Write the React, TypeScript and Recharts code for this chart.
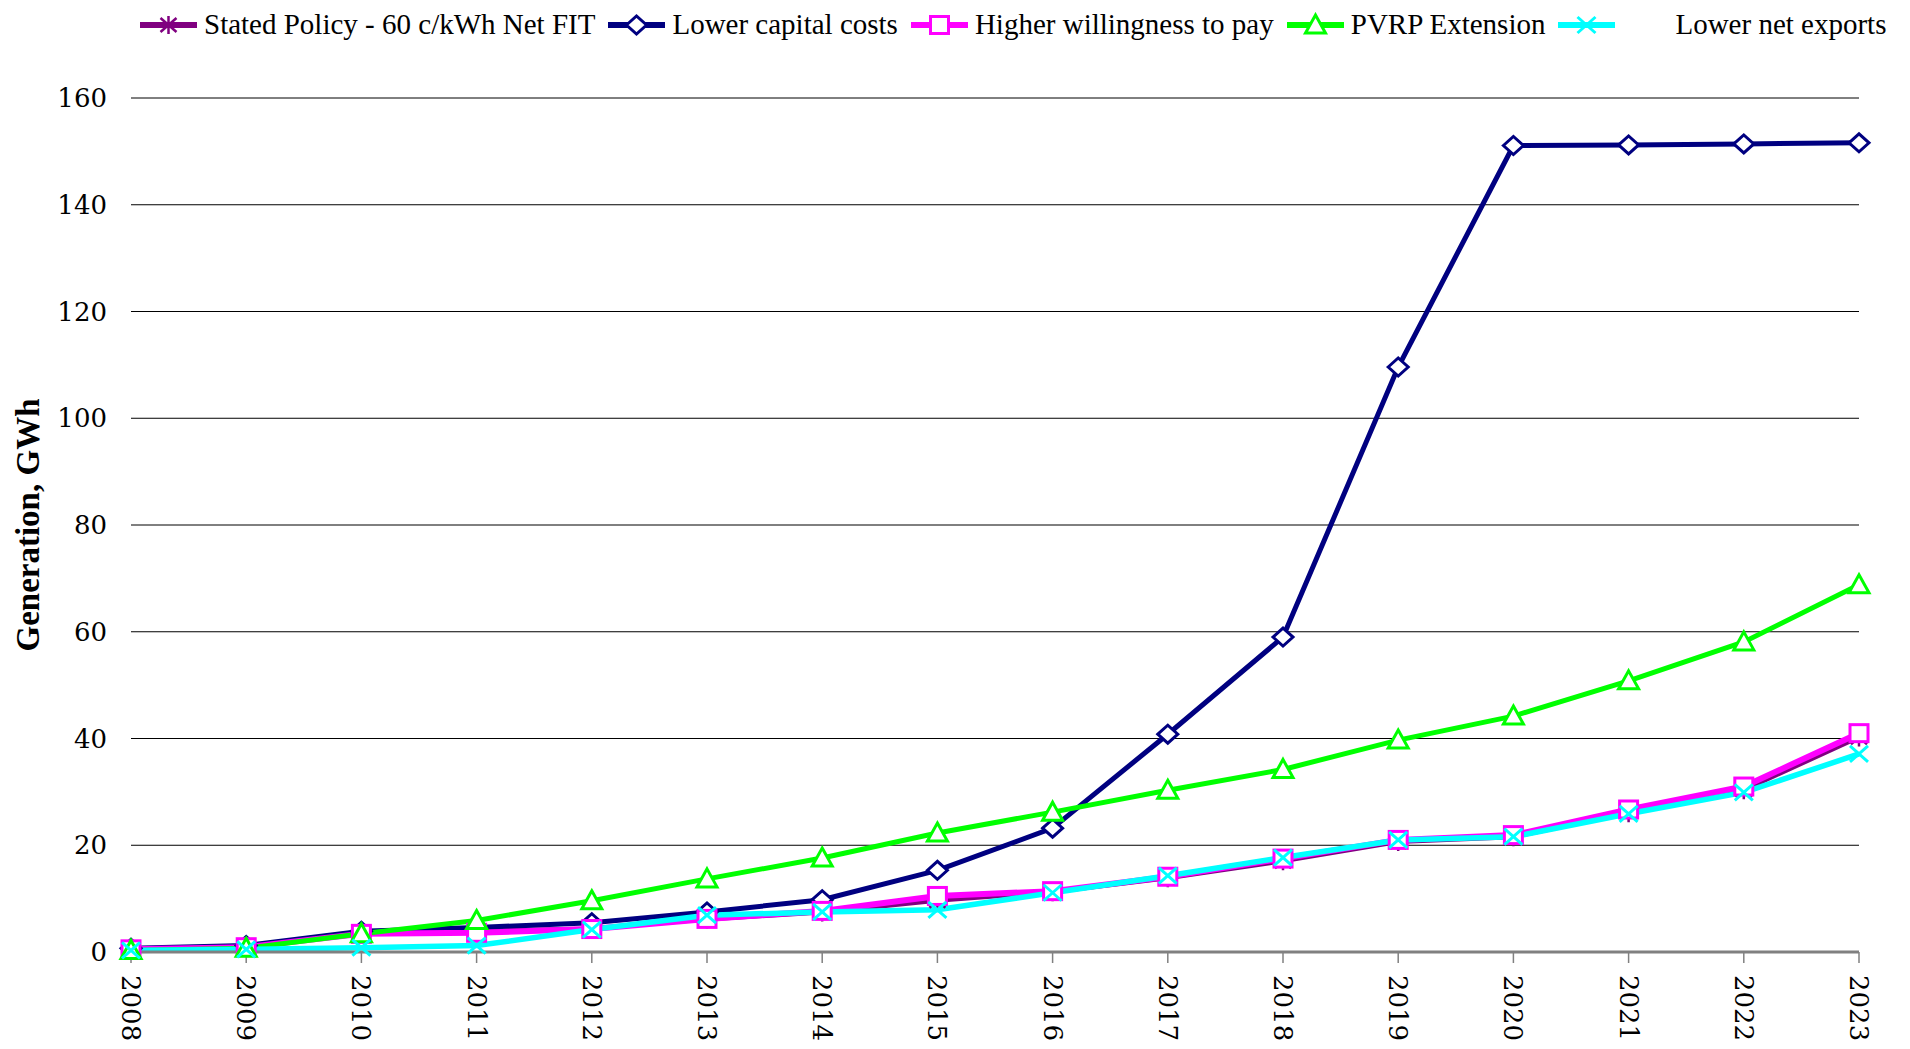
import React from 'react';
import { LineChart, Line, XAxis, YAxis, CartesianGrid, Legend } from 'recharts';

// values, GWh per year
const years = ['2008', '2009', '2010', '2011', '2012', '2013', '2014', '2015', '2016', '2017', '2018', '2019', '2020', '2021', '2022', '2023'];
const statedPolicy = [0.5, 0.9, 3.6, 4.0, 4.4, 6.1, 7.4, 9.6, 11.2, 13.8, 17.0, 20.6, 21.5, 26.0, 30.3, 40.2];
const lowerCapitalCosts = [0.7, 1.2, 3.9, 4.6, 5.5, 7.5, 9.8, 15.3, 23.2, 40.8, 59.0, 109.6, 151.1, 151.2, 151.4, 151.6];
const higherWillingness = [0.5, 0.9, 3.4, 3.6, 4.3, 6.2, 7.7, 10.5, 11.4, 14.1, 17.5, 21.0, 21.9, 26.7, 31.0, 41.0];
const pvrpExtension = [0.3, 0.7, 3.4, 5.9, 9.6, 13.7, 17.6, 22.3, 26.2, 30.3, 34.2, 39.7, 44.2, 50.8, 58.1, 68.8];
const lowerNetExports = [0.3, 0.5, 0.8, 1.2, 4.2, 6.9, 7.5, 7.9, 11.1, 14.3, 17.7, 21.0, 21.6, 25.9, 29.9, 37.1];
const yTicks = [0, 20, 40, 60, 80, 100, 120, 140, 160];

type Shape = 'star' | 'diamond' | 'square' | 'triangle' | 'cross';

interface Series {
  key: string;
  name: string;
  color: string;
  width: number;
  shape: Shape;
  values: number[];
}

const series: Series[] = [
  { key: 'stated', name: 'Stated Policy - 60 c/kWh Net FIT', color: '#800080', width: 4, shape: 'star', values: statedPolicy },
  { key: 'capital', name: 'Lower capital costs', color: '#000080', width: 5, shape: 'diamond', values: lowerCapitalCosts },
  { key: 'wtp', name: 'Higher willingness to pay', color: '#ff00ff', width: 6, shape: 'square', values: higherWillingness },
  { key: 'pvrp', name: 'PVRP Extension', color: '#00ff00', width: 5, shape: 'triangle', values: pvrpExtension },
  { key: 'exports', name: 'Lower net exports', color: '#00ffff', width: 5.5, shape: 'cross', values: lowerNetExports },
];

const data = years.map((year, i) => {
  const row: Record<string, string | number> = { year };
  series.forEach((s) => {
    row[s.key] = s.values[i];
  });
  return row;
});

const SERIF = '"DejaVu Serif", serif';
const LEGEND_FONT = '"Liberation Serif", serif';

function Marker({ cx, cy, shape, color }: { cx: number; cy: number; shape: Shape; color: string }) {
  const sw = 3;
  switch (shape) {
    case 'diamond':
      return (
        <polygon
          points={`${cx - 10},${cy} ${cx},${cy - 9} ${cx + 10},${cy} ${cx},${cy + 9}`}
          fill="#fff"
          stroke={color}
          strokeWidth={sw}
        />
      );
    case 'square':
      return <rect x={cx - 9} y={cy - 8.5} width={18} height={17} fill="#fff" stroke={color} strokeWidth={sw} />;
    case 'triangle':
      return (
        <polygon
          points={`${cx},${cy - 10} ${cx + 10},${cy + 8} ${cx - 10},${cy + 8}`}
          fill="#fff"
          stroke={color}
          strokeWidth={sw}
        />
      );
    case 'cross':
      return (
        <path
          d={`M${cx - 9},${cy - 8}L${cx + 9},${cy + 8}M${cx - 9},${cy + 8}L${cx + 9},${cy - 8}`}
          stroke={color}
          strokeWidth={sw}
          fill="none"
        />
      );
    default:
      return (
        <path
          d={`M${cx - 8},${cy - 7}L${cx + 8},${cy + 7}M${cx - 8},${cy + 7}L${cx + 8},${cy - 7}M${cx},${cy - 9}L${cx},${cy + 9}`}
          stroke={color}
          strokeWidth={2.5}
          fill="none"
        />
      );
  }
}

function LegendContent() {
  return (
    <div
      style={{
        display: 'flex',
        alignItems: 'center',
        paddingLeft: 140,
        fontFamily: LEGEND_FONT,
        fontSize: 29,
        color: '#000',
        whiteSpace: 'nowrap',
      }}
    >
      {series.map((s, i) => (
        <div key={s.key} style={{ display: 'flex', alignItems: 'center', marginRight: 13 }}>
          <svg width={57} height={26}>
            <line x1={0} y1={13} x2={57} y2={13} stroke={s.color} strokeWidth={6} />
            <Marker cx={28.5} cy={13} shape={s.shape} color={s.color} />
          </svg>
          <span style={{ marginLeft: i === 4 ? 60 : 7 }}>{s.name}</span>
        </div>
      ))}
    </div>
  );
}

function YearTick(props: any) {
  const { x, y, payload } = props;
  return (
    <text
      x={x}
      y={y}
      transform={`rotate(90, ${x}, ${y})`}
      textAnchor="start"
      dy="0.35em"
      fontFamily={SERIF}
      fontSize={26}
      fill="#000"
    >
      {payload.value}
    </text>
  );
}

function YLabel(props: any) {
  const vb = props.viewBox || { y: 98, height: 854 };
  const cy = vb.y + vb.height / 2;
  return (
    <text
      x={27}
      y={cy}
      transform={`rotate(-90, 27, ${cy})`}
      textAnchor="middle"
      dy="0.35em"
      fontFamily={LEGEND_FONT}
      fontWeight="bold"
      fontSize={33}
      fill="#000"
    >
      Generation, GWh
    </text>
  );
}

export default function App() {
  return (
    <div style={{ position: 'absolute', left: 0, top: 0, width: 1910, height: 1049, background: '#fff' }}>
      <LineChart width={1910} height={1049} data={data} margin={{ top: 98, right: 51, left: 0, bottom: 0 }}>
        <CartesianGrid horizontal vertical={false} stroke="#000" strokeWidth={1} />
        <XAxis
          dataKey="year"
          interval={0}
          height={97}
          tick={<YearTick />}
          tickSize={11}
          tickMargin={12}
          axisLine={{ stroke: '#808080', strokeWidth: 3 }}
          tickLine={{ stroke: '#808080', strokeWidth: 1.5 }}
        />
        <YAxis
          width={131}
          domain={[0, 160]}
          ticks={yTicks}
          axisLine={false}
          tickLine={false}
          tickSize={0}
          tickMargin={24}
          tick={{ fill: '#000', fontSize: 26, fontFamily: SERIF }}
          label={<YLabel />}
        />
        <Legend
          verticalAlign="middle"
          align="center"
          layout="horizontal"
          content={<LegendContent />}
          wrapperStyle={{ top: 8, left: 0, width: 1910 }}
        />
        {series.map((s) => (
          <Line
            key={s.key}
            type="linear"
            dataKey={s.key}
            name={s.name}
            stroke={s.color}
            strokeWidth={s.width}
            isAnimationActive={false}
            activeDot={false}
            dot={(p: any) => <Marker key={`${s.key}-${p.index}`} cx={p.cx} cy={p.cy} shape={s.shape} color={s.color} />}
          />
        ))}
      </LineChart>
    </div>
  );
}
